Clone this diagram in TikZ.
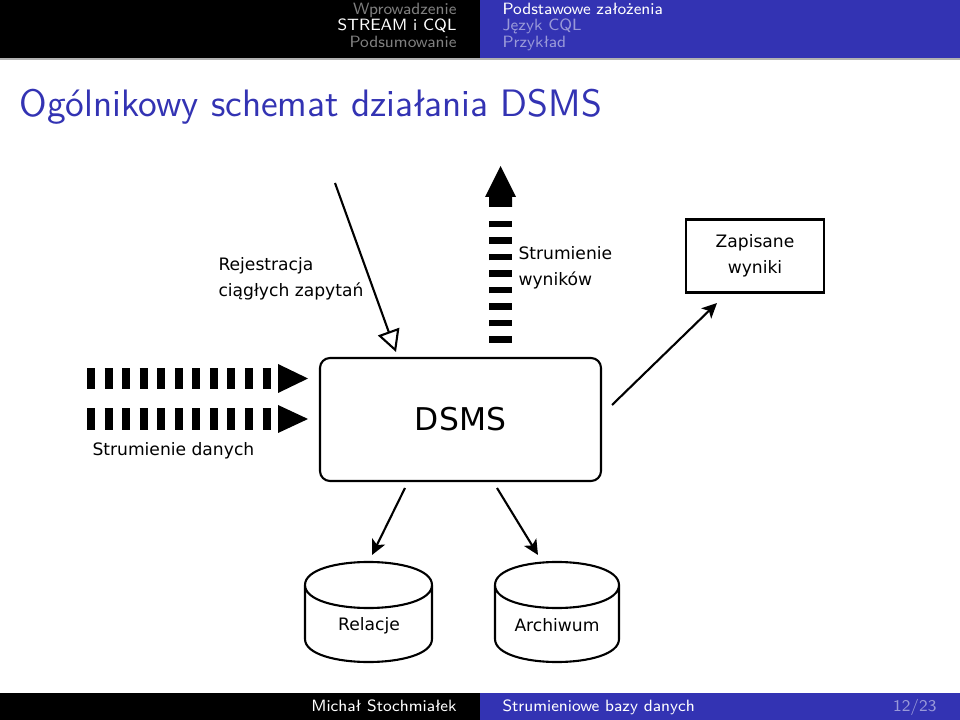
\documentclass[tikz,border=0pt]{standalone}
\usepackage{fontspec}
\newfontfamily\figfont{DejaVu Sans}
\usetikzlibrary{arrows.meta,graphs}
\definecolor{bblue}{RGB}{51,51,179}
\definecolor{bpale}{RGB}{153,153,217}
\definecolor{bgrey}{RGB}{128,128,128}

\begin{document}
\begin{tikzpicture}[x=0.13333mm, y=-0.13333mm,
    hd/.style={font=\sffamily\fontsize{6.2}{7}\selectfont, inner sep=0},
    lbl/.style={font=\figfont\fontsize{6.5}{9.7}\selectfont, inner sep=0, align=left},
    ln/.style={line width=0.28mm},
    >={Stealth[length=2mm, width=1.9mm, inset=0.5mm]},
    hollow/.style={-{Triangle[open, length=2.9mm, width=3mm]}}]
  \useasboundingbox (0,0) rectangle (960,720);
  % head line
  \fill[black] (0,0) rectangle (480,58);
  \fill[bblue] (480,0) rectangle (960,58);
  \draw[gray!60, line width=0.25mm] (0,59) -- (960,59);
  \node[hd, anchor=base east, text=bgrey] (s1) at (457,15) {Wprowadzenie};
  \node[hd, anchor=base east, text=white] (s2) at (457,31) {STREAM i CQL};
  \node[hd, anchor=base east, text=bgrey] (s3) at (457,48) {Podsumowanie};
  \node[hd, anchor=base west, text=white] (u1) at (502,15) {Podstawowe założenia};
  \node[hd, anchor=base west, text=bpale] (u2) at (502,31) {Język CQL};
  \node[hd, anchor=base west, text=bpale] (u3) at (502,48) {Przykład};
  % frame title
  \node[anchor=base west, inner sep=0, text=bblue, font=\sffamily\fontsize{14.5}{17}\selectfont] (t) at (19,117) {Ogólnikowy schemat działania DSMS};
  % foot line
  \fill[black] (0,693) rectangle (480,720);
  \fill[bblue] (480,693) rectangle (960,720);
  \node[hd, anchor=base east, text=white] (f1) at (457,711) {Michał Stochmiałek};
  \node[hd, anchor=base west, text=white] (f2) at (502,711) {Strumieniowe bazy danych};
  \node[hd, anchor=base east, text=bpale] (f3) at (937,711) {12/23};

  % boxes
  \node[draw, ln, rounded corners=1.33mm, minimum width=37.47mm, minimum height=16.4mm,
        font=\figfont\fontsize{11.9}{14}\selectfont] (dsms) at (460.5,419.5) {DSMS};
  \node[draw, ln, lbl, align=center, minimum width=18.4mm, minimum height=9.73mm] (zap) at (755,256) {Zapisane\\wyniki};

  % data bases
  \draw[ln] (305,585) .. controls (305,554.3) and (432,554.3) .. (432,585)
            .. controls (432,615.7) and (305,615.7) .. (305,585) -- (305,639)
            .. controls (305,669.7) and (432,669.7) .. (432,639) -- (432,585);
  \node[lbl] (rel) at (369,626) {Relacje};
  \draw[ln] (495,585) .. controls (495,554.3) and (619,554.3) .. (619,585)
            .. controls (619,615.7) and (495,615.7) .. (495,585) -- (495,639)
            .. controls (495,669.7) and (619,669.7) .. (619,639) -- (619,585);
  \node[lbl] (arch) at (557,625) {Archiwum};

  % streams
  \draw[line width=2.93mm, dash pattern=on 1.07mm off 1.27mm] (87,378.5) -- (271,378.5);
  \fill (278,364) -- (308,378.5) -- (278,393) -- cycle;
  \draw[line width=2.93mm, dash pattern=on 1.07mm off 1.27mm] (87,419) -- (271,419);
  \fill (278,405) -- (308,419) -- (278,433) -- cycle;
  \node[lbl, anchor=west] (dan) at (92,451) {Strumienie danych};
  \draw[line width=3.07mm, dash pattern=on 0.87mm off 1.33mm] (500.5,343) -- (500.5,215);
  \fill (489,207) -- (489,197) -- (485,197) -- (500.5,166) -- (516,197) -- (512,197) -- (512,207) -- cycle;
  \node[lbl, anchor=west] (wyn) at (518,268) {Strumienie\\wyników};
  \node[lbl, anchor=west] (rej) at (218,279) {Rejestracja\\ciągłych zapytań};

  % arrows
  \coordinate (q0) at (335,183);
  \coordinate (q1) at (396,352);
  \coordinate (z0) at (612,405);
  \coordinate (z1) at (717,303);
  \coordinate (r0) at (405,488);
  \coordinate (r1) at (372,555);
  \coordinate (a0) at (497,488);
  \coordinate (a1) at (538,555);
  \graph[use existing nodes, edges={ln}] {
    q0 ->[hollow] q1;
    z0 -> z1;
    r0 -> r1;
    a0 -> a1;
  };
\end{tikzpicture}
\end{document}
